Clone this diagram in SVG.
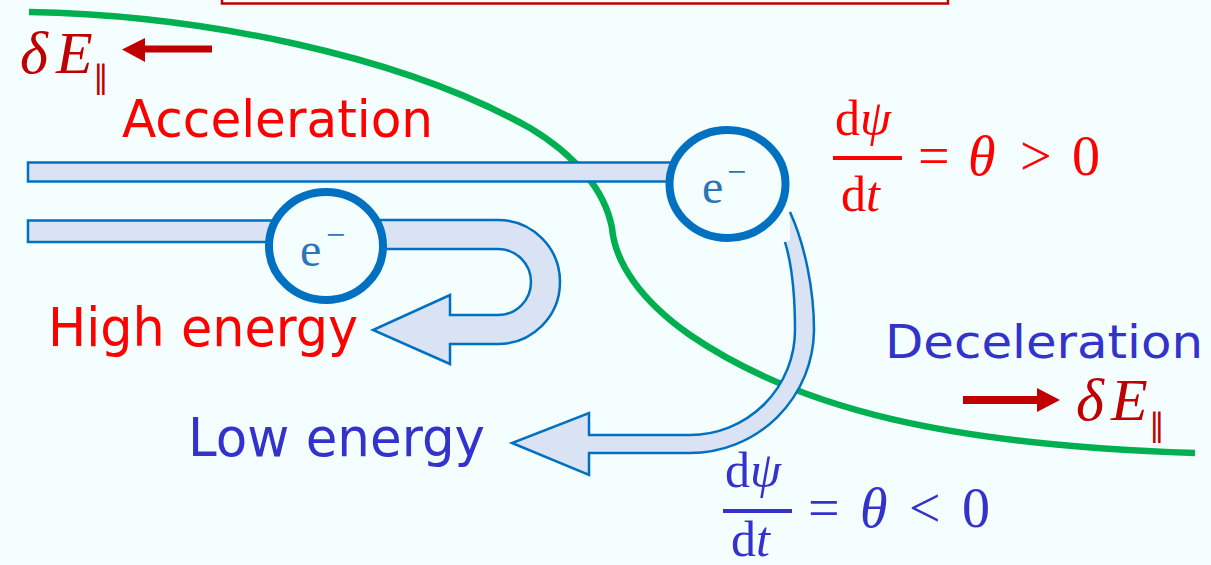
<svg xmlns="http://www.w3.org/2000/svg" width="1211" height="565" viewBox="0 0 1211 565">
<style>
.tube{fill:#DAE3F3;stroke:#0070C0;stroke-width:2.5;stroke-linejoin:miter}
.tubefill{fill:#DAE3F3;stroke:none}
.tubeedge{fill:none;stroke:#0070C0;stroke-width:2.5}
.elec{fill:#F4FEFF;stroke:#0070C0;stroke-width:8}
.etxt{font-family:"Liberation Serif",serif;fill:#2E75B6;font-size:48px}
.lbl{font-family:"DejaVu Sans",sans-serif}
.red{fill:#FF0000}
.blue{fill:#3333CC}
.dred{fill:#C00000}
.math{font-family:"Liberation Serif",serif;font-size:56px}
.num{font-family:"Liberation Serif",serif;font-size:50px}
.it{font-style:italic}
.big{font-family:"Liberation Serif",serif;font-style:italic;font-size:60px}
.par{font-family:"DejaVu Sans",sans-serif;font-size:32px}
</style>
<rect x="0" y="0" width="1211" height="565" fill="#F4FEFF"/>
<rect id="titlebox" x="222" y="-20" width="726" height="23.5" fill="none" stroke="#C00000" stroke-width="2.5"/>
<g id="field-line">
<path d="M29,12 C200,15 400,55 530,128 C575,155 605,190 612,228 C615,262 640,300 690,335 C800,410 950,445 1195,453" fill="none" stroke="#00B050" stroke-width="6.5"/>
</g>
<g id="connectors">
<rect class="tube" x="28" y="162.5" width="680" height="19"/>
<rect class="tube" x="28" y="220.5" width="260" height="21.5"/>
<path class="tube" d="M380,220 L498,220 A62,62 0 0 1 498,344 L450,344 L450,364 L373,330 L450,295 L450,315 L498,315 A33,33 0 0 0 498,249 L380,249 Z"/>
<path class="tubefill" d="M790,212 C805,245 814,290 814,330 A124,124 0 0 1 690,453 L589,453 L589,475 L512,443 L589,413 L589,435 L690,435 A105,105 0 0 0 795,330 C795,295 792,265 785,242 L790,240 Z"/>
<path class="tubeedge" d="M790,212 C805,245 814,290 814,330 A124,124 0 0 1 690,453 L589,453 L589,475 L512,443 L589,413 L589,435 L690,435 A105,105 0 0 0 795,330 C795,295 792,265 785,242"/>
</g>
<g id="electron-high">
<ellipse class="elec" cx="326" cy="246" rx="57" ry="54"/>
<text class="etxt" x="300" y="266">e<tspan font-size="34" x="326" y="246">−</tspan></text>
</g>
<g id="electron-low">
<ellipse class="elec" cx="727.5" cy="184" rx="58" ry="54"/>
<text class="etxt" x="702" y="203">e<tspan font-size="34" x="727" y="183">−</tspan></text>
</g>
<g id="label-acceleration">
<text class="lbl red" x="122" y="137" font-size="52" textLength="311" lengthAdjust="spacingAndGlyphs">Acceleration</text>
</g>
<g id="label-high">
<text class="lbl red" x="48" y="346" font-size="53" textLength="310" lengthAdjust="spacingAndGlyphs">High energy</text>
</g>
<g id="label-low">
<text class="lbl blue" x="188" y="456" font-size="53" textLength="297" lengthAdjust="spacingAndGlyphs">Low energy</text>
</g>
<g id="label-deceleration">
<text class="lbl blue" x="885" y="358" font-size="46" textLength="318" lengthAdjust="spacingAndGlyphs">Deceleration</text>
</g>
<g id="dE-left">
<text class="big dred" x="20" y="73">δ<tspan x="56">E</tspan></text>
<text class="par dred" x="93" y="88">∥</text>
<path d="M212,49 L143,49" stroke="#C00000" stroke-width="7" fill="none"/>
<polygon points="145,38 122,49.5 145,62" fill="#C00000"/>
</g>
<g id="dE-right">
<path d="M963,400 L1040,400" stroke="#C00000" stroke-width="8" fill="none"/>
<polygon points="1037,388 1060,400 1037,412" fill="#C00000"/>
<text class="big dred" x="1076" y="420">δ<tspan x="1111">E</tspan></text>
<text class="par dred" x="1149" y="436">∥</text>
</g>
<g id="eq-positive" class="red">
<text class="num" x="835" y="135">d<tspan class="it">ψ</tspan></text>
<rect x="833" y="156" width="69" height="4"/>
<text class="num" x="841" y="211">d<tspan class="it">t</tspan></text>
<text class="math" x="918" y="175">=</text>
<text class="math it" x="968" y="175">θ</text>
<text class="math" x="1020" y="175">&gt;</text>
<text class="math" x="1072" y="175">0</text>
</g>
<g id="eq-negative" class="blue">
<text class="num" x="725" y="487">d<tspan class="it">ψ</tspan></text>
<rect x="723" y="509" width="69" height="4"/>
<text class="num" x="731" y="556">d<tspan class="it">t</tspan></text>
<text class="math" x="808" y="527">=</text>
<text class="math it" x="860" y="527">θ</text>
<text class="math" x="909" y="527">&lt;</text>
<text class="math" x="962" y="527">0</text>
</g>
</svg>
